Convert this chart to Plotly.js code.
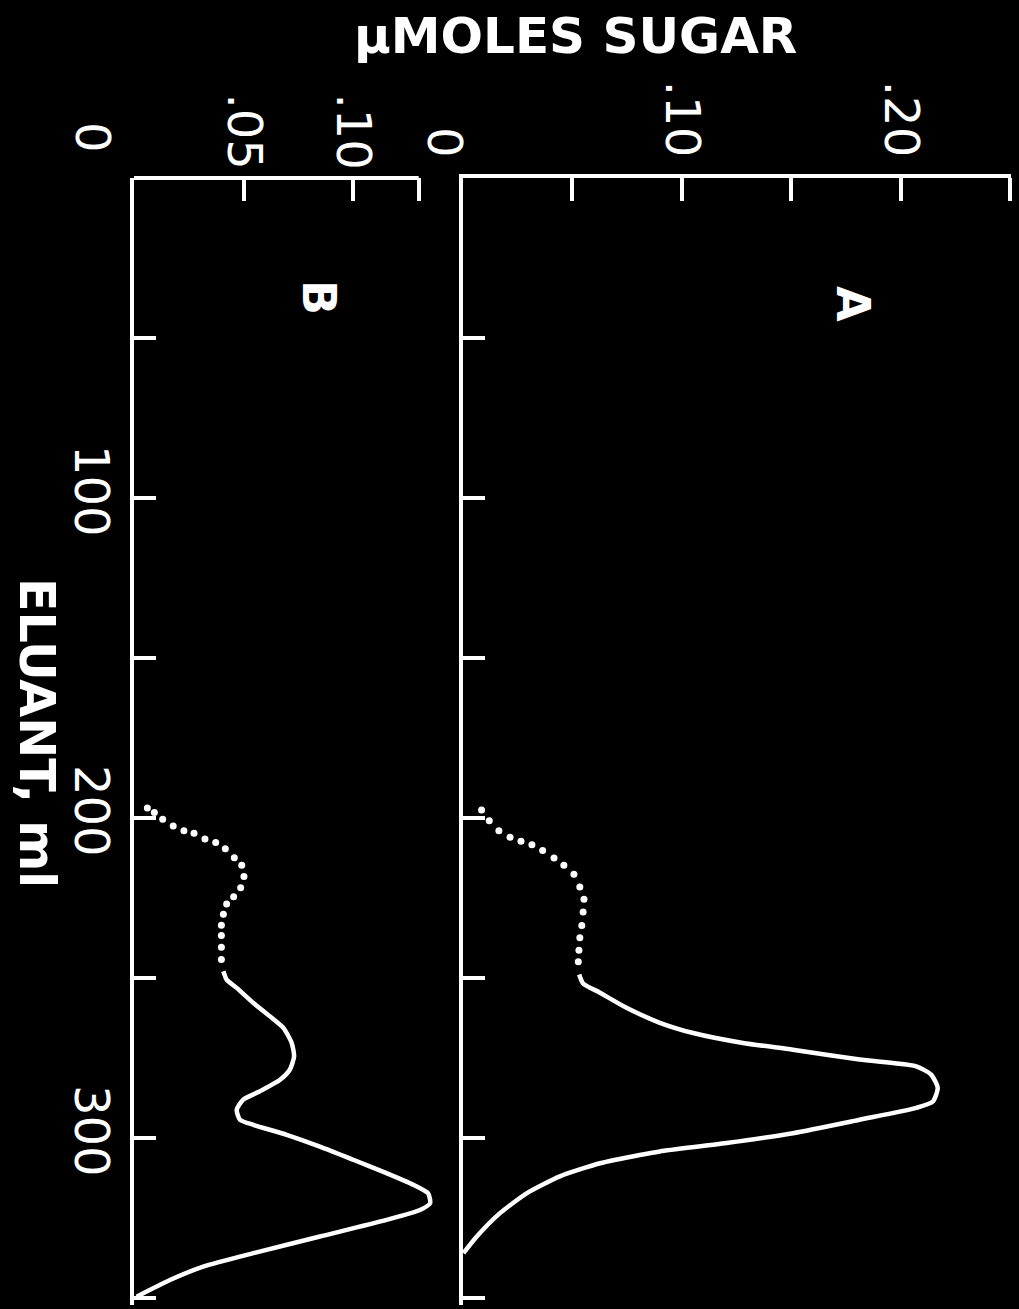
<!DOCTYPE html>
<html>
<head>
<meta charset="utf-8">
<script src="https://cdn.plot.ly/plotly-3.0.1.min.js"></script>
<style>html,body{margin:0;padding:0;background:#000;}</style>
</head>
<body>
<div id="chart" style="width:1019px;height:1309px;"></div>
<script>
// Panel A: dotted segment (eluant ml, µmoles sugar)
const eluantA_dot = [197.5,200.9,204,206,207.3,208.4,210.2,212.5,214.8,217.6,221.6,225.4,229.4,233.6,237.4,241.3,244.9];
const sugarA_dot  = [.0085,.012,.0164,.0215,.0265,.0315,.0364,.0416,.0461,.0507,.0534,.0553,.0549,.0543,.0534,.053,.0527];
// Panel A: solid segment
const eluantA = [248.9,251.7,254.6,259.3,264,267.2,270.3,272.4,275.5,277.6,280.2,284.4,288.6,290.6,294.3,298.5,301.6,304.2,305.3,307.9,312,317.3,323.5,330.8,336];
const sugarA  = [.0531,.0549,.0626,.0747,.09,.1052,.128,.1508,.1813,.2072,.214,.217,.2148,.2072,.1813,.1508,.1204,.09,.0808,.0626,.0443,.0291,.0169,.0063,.0002];
// Panel B: dotted segment
const eluantB_dot = [196.9,198.3,200.4,202.5,204,204.8,206.6,207.7,209.6,212.4,214.8,218.3,221.8,224.6,226.9,230.1,233.5,236.7,240.4,244.2];
const sugarB_dot  = [.0061,.0093,.0131,.0179,.0228,.0274,.0324,.0373,.0417,.0458,.0492,.0502,.0487,.0455,.0423,.0408,.0399,.0399,.0399,.0399];
// Panel B: solid segment
const eluantB = [247.9,250.5,253.1,257.8,262,265.6,270.3,274.5,278.6,281.8,285.4,288,291.2,294.3,295.9,299,302.7,306.8,311,314.6,317.3,320.4,322.5,325.6,330.8,336,340.2,344.4,349.6];
const sugarB  = [.0408,.0423,.0469,.0545,.0621,.0682,.072,.0731,.0712,.0667,.0575,.0499,.0469,.0484,.0545,.0697,.0849,.1001,.1153,.1275,.1343,.1352,.1306,.1153,.0849,.0545,.0316,.0164,.0012];

// Tick values / labels
const eluantTicks = [0,50,100,150,200,250,300,350];
const eluantLabels = ['','','100','','200','','300',''];
const sugarTicksA = [0,.05,.10,.15,.20,.25];
const sugarLabelsA = ['','','.10','','.20',''];
const sugarTicksB = [0,.05,.10,.13];
const sugarLabelsB = ['','.05','.10',''];

const titleSugar = 'µMOLES SUGAR';
const titleEluant = 'ELUANT, ml';

const W = '#ffffff';
const FONT = 'DejaVu Sans';

const traces = [
  {x: sugarA_dot, y: eluantA_dot, xaxis:'x', yaxis:'y', mode:'markers', marker:{color:W, size:7}, hoverinfo:'skip'},
  {x: sugarA, y: eluantA, xaxis:'x', yaxis:'y', mode:'lines', line:{color:W, width:4.5, shape:'spline', smoothing:0.6}, hoverinfo:'skip'},
  {x: sugarB_dot, y: eluantB_dot, xaxis:'x2', yaxis:'y2', mode:'markers', marker:{color:W, size:7}, hoverinfo:'skip'},
  {x: sugarB, y: eluantB, xaxis:'x2', yaxis:'y2', mode:'lines', line:{color:W, width:4.5, shape:'spline', smoothing:0.6}, hoverinfo:'skip'}
];

const yTop = 1 - 178/1309, yBot = 1 - 1305/1309;
const tickFont = {family: FONT, size: 48, color: W};

function xAx(domain, range, vals, text, showline) {
  return {domain, range, side:'top', tickvals: vals, ticktext: text, ticks:'inside',
    ticklen: 23, tickwidth: 4, tickcolor: W, showline, linewidth: 4, linecolor: W,
    showgrid:false, zeroline:false, tickangle: 90, tickfont: tickFont, fixedrange:true};
}
function yAx(anchor, labels, showLabels) {
  return {domain:[yBot, yTop], range:[352.2, 0], anchor, tickvals: eluantTicks, ticktext: labels,
    showticklabels: showLabels, ticks:'inside', ticklen: 22, tickwidth: 4, tickcolor: W,
    showline:true, linewidth:4, linecolor: W, showgrid:false, zeroline:false,
    tickangle: 90, tickfont: tickFont, ticklabelstandoff: -3, fixedrange:true};
}

const layout = {
  width: 1019, height: 1309,
  margin: {l:0, r:0, t:0, b:0, pad:0},
  paper_bgcolor: '#000', plot_bgcolor: '#000',
  showlegend: false,
  xaxis:  Object.assign(xAx([463/1019, 1011/1019], [0, .2505], sugarTicksA, sugarLabelsA, true), {anchor:'y'}),
  xaxis2: Object.assign(xAx([134/1019, 440.6/1019], [0, .14], sugarTicksB, sugarLabelsB, false), {anchor:'y2'}),
  yaxis:  yAx('x', eluantLabels, false),
  yaxis2: yAx('x2', eluantLabels, true),
  shapes: [
    {type:'line', xref:'x2', yref:'paper', x0:0, x1:.13, y0:yTop, y1:yTop, line:{color:W, width:4}}
  ],
  annotations: [
    {text: titleSugar, xref:'paper', yref:'paper', x: 575/1019, y: 1 - 36/1309, showarrow:false,
     font:{family:FONT, size:50, color:W, weight:'bold'}, xanchor:'center', yanchor:'middle'},
    {text: titleEluant, xref:'paper', yref:'paper', x: 37/1019, y: 1 - 733/1309, showarrow:false,
     textangle: 90, font:{family:FONT, size:49, color:W, weight:'bold'}, xanchor:'center', yanchor:'middle'},
    {text: '0', xref:'paper', yref:'paper', x: 93/1019, y: 1 - 137/1309, showarrow:false,
     textangle: 90, font:tickFont, xanchor:'center', yanchor:'middle'},
    {text: '0', xref:'paper', yref:'paper', x: 445/1019, y: 1 - 142/1309, showarrow:false,
     textangle: 90, font:tickFont, xanchor:'center', yanchor:'middle'},
    {text: 'A', xref:'paper', yref:'paper', x: 853/1019, y: 1 - 304/1309, showarrow:false,
     textangle: 90, font:{family:FONT, size:46, color:W, weight:'bold'}, xanchor:'center', yanchor:'middle'},
    {text: 'B', xref:'paper', yref:'paper', x: 319/1019, y: 1 - 297/1309, showarrow:false,
     textangle: 90, font:{family:FONT, size:46, color:W, weight:'bold'}, xanchor:'center', yanchor:'middle'}
  ]
};

Plotly.newPlot('chart', traces, layout, {staticPlot:true, displayModeBar:false});
</script>
</body>
</html>
